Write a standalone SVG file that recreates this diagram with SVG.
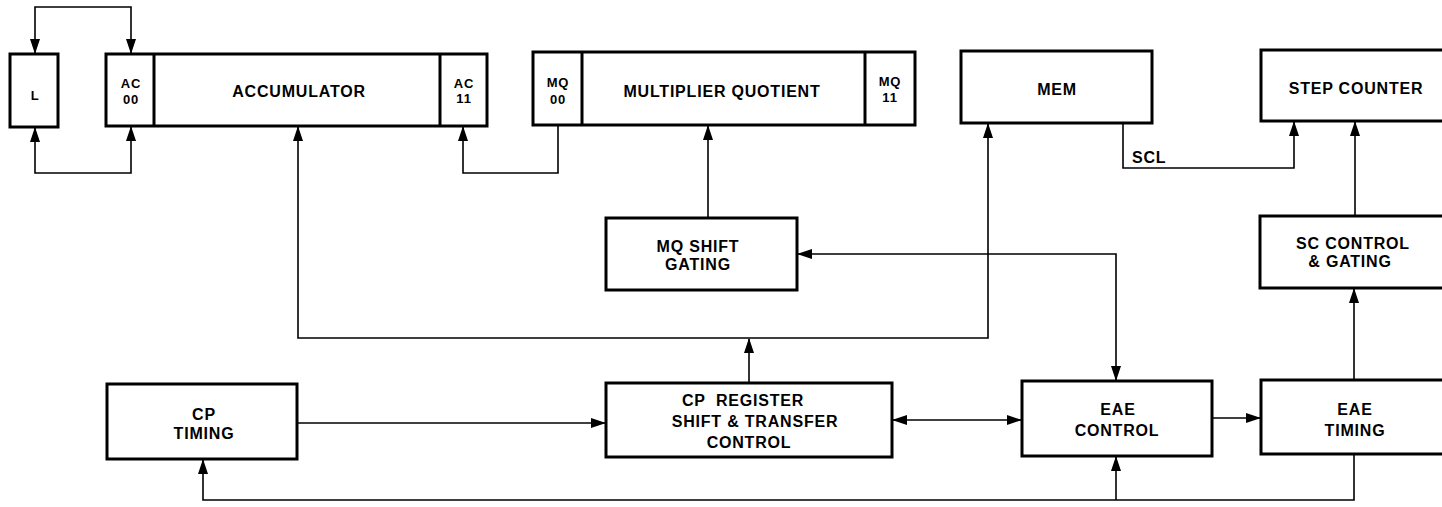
<svg xmlns="http://www.w3.org/2000/svg" width="1442" height="507" viewBox="0 0 1442 507">
<style>
.box{fill:#fff;stroke:#000;stroke-width:3}
.div{stroke:#000;stroke-width:3}
.ln{fill:none;stroke:#000;stroke-width:1.6}
text{font-family:"Liberation Sans",Arial,sans-serif;font-weight:bold;font-size:16px;letter-spacing:0.8px;text-anchor:middle;fill:#000}
.sm{font-size:13px;letter-spacing:0.8px}
</style>
<defs>
<marker id="ah" viewBox="0 0 15 10" refX="14" refY="5" markerWidth="15" markerHeight="10" markerUnits="userSpaceOnUse" orient="auto-start-reverse">
<path d="M0,0 L15,5 L0,10 Z" fill="#000"/>
</marker>
</defs>
<g id="connectors">
<path class="ln" d="M35,53 V7 H131 V53" marker-start="url(#ah)" marker-end="url(#ah)"/>
<path class="ln" d="M35,128 V173 H131 V127" marker-start="url(#ah)" marker-end="url(#ah)"/>
<path class="ln" d="M558,126 V173 H463 V127" marker-end="url(#ah)"/>
<path class="ln" d="M298,127 V338 H988 V124" marker-start="url(#ah)" marker-end="url(#ah)"/>
<path class="ln" d="M749,382 V339" marker-end="url(#ah)"/>
<path class="ln" d="M708,217 V126" marker-end="url(#ah)"/>
<path class="ln" d="M798,254 H1116 V380" marker-start="url(#ah)" marker-end="url(#ah)"/>
<path class="ln" d="M298,423 H605" marker-end="url(#ah)"/>
<path class="ln" d="M893,420 H1021" marker-start="url(#ah)" marker-end="url(#ah)"/>
<path class="ln" d="M1213,418 H1260" marker-end="url(#ah)"/>
<path class="ln" d="M1354,455 V500 H203 V460" marker-end="url(#ah)"/>
<path class="ln" d="M1116,500 V457" marker-end="url(#ah)"/>
<path class="ln" d="M1354,379 V289" marker-end="url(#ah)"/>
<path class="ln" d="M1355,215 V122" marker-end="url(#ah)"/>
<path class="ln" d="M1123,124 V168 H1294 V122" marker-end="url(#ah)"/>
<text x="1132" y="163" style="text-anchor:start">SCL</text>
</g>
<g id="L">
<rect class="box" x="10" y="54" width="48" height="73"/>
<text class="sm" x="35" y="100">L</text>
</g>
<g id="accumulator">
<rect class="box" x="106" y="54" width="381" height="72"/>
<line class="div" x1="154" y1="54" x2="154" y2="126"/>
<line class="div" x1="440" y1="54" x2="440" y2="126"/>
<text class="sm" x="131" y="88">AC</text>
<text class="sm" x="131" y="104">00</text>
<text x="299" y="97">ACCUMULATOR</text>
<text class="sm" x="464" y="88">AC</text>
<text class="sm" x="464" y="103">11</text>
</g>
<g id="mq">
<rect class="box" x="533" y="52" width="382" height="73"/>
<line class="div" x1="582" y1="52" x2="582" y2="125"/>
<line class="div" x1="865" y1="52" x2="865" y2="125"/>
<text class="sm" x="558" y="87">MQ</text>
<text class="sm" x="558" y="104">00</text>
<text x="722" y="97">MULTIPLIER QUOTIENT</text>
<text class="sm" x="890" y="86">MQ</text>
<text class="sm" x="890" y="102">11</text>
</g>
<g id="mem">
<rect class="box" x="961" y="51" width="191" height="72"/>
<text x="1057" y="95">MEM</text>
</g>
<g id="step-counter">
<rect class="box" x="1261" y="50" width="200" height="71"/>
<text x="1356" y="94">STEP COUNTER</text>
</g>
<g id="mq-shift-gating">
<rect class="box" x="606" y="218" width="191" height="72"/>
<text x="698" y="252">MQ SHIFT</text>
<text x="698" y="270">GATING</text>
</g>
<g id="sc-control">
<rect class="box" x="1260" y="216" width="200" height="72"/>
<text x="1353" y="249">SC CONTROL</text>
<text x="1350" y="267">&amp; GATING</text>
</g>
<g id="cp-timing">
<rect class="box" x="107" y="384" width="190" height="75"/>
<text x="204" y="420">CP</text>
<text x="204" y="439">TIMING</text>
</g>
<g id="cp-register">
<rect class="box" x="606" y="383" width="286" height="74"/>
<text x="743" y="406" xml:space="preserve">CP  REGISTER</text>
<text x="755" y="427">SHIFT &amp; TRANSFER</text>
<text x="749" y="448">CONTROL</text>
</g>
<g id="eae-control">
<rect class="box" x="1022" y="381" width="190" height="75"/>
<text x="1118" y="415">EAE</text>
<text x="1117" y="436">CONTROL</text>
</g>
<g id="eae-timing">
<rect class="box" x="1261" y="380" width="200" height="74"/>
<text x="1355" y="415">EAE</text>
<text x="1355" y="436">TIMING</text>
</g>
</svg>
